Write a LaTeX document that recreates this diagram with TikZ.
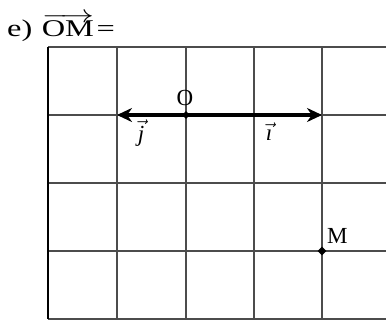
\documentclass[tikz,border=0pt]{standalone}
\usepackage{graphicx}
\usepackage{fontspec}
\setmainfont{Liberation Serif}
\usetikzlibrary{arrows.meta,shapes.geometric}
\tikzset{
  gridline/.style={draw=black!70, line width=1.1pt},
  vecline/.style={line width=3.6pt, -{Stealth[length=15pt,width=14pt]}},
  ptdot/.style={diamond, fill=black, inner sep=0pt, minimum size=8pt},
  lbl/.style={font=\fontsize{23}{26}\selectfont, inner sep=0pt},
  vlbl/.style={font=\fontsize{23}{26}\selectfont, inner sep=0pt}
}
\begin{document}
\begin{tikzpicture}[x=1pt,y=-1pt]
\useasboundingbox (0,0) rectangle (386,320);
\begin{scope}
\clip (0,0) rectangle (386,320);
\foreach \x in {117,186,254,322,390} \draw[gridline] (\x,47) -- (\x,319);
\foreach \y in {47,115,183,251,319} \draw[gridline] (48,\y) -- (390,\y);
\draw[draw=black, line width=1.4pt] (48,47) -- (48,319);
\end{scope}
\coordinate (O) at (186,115);
\coordinate (A) at (117,115);
\coordinate (B) at (322,115);
\coordinate (M) at (322,251);
\draw[vecline] (O) -- (A);
\draw[vecline] (O) -- (B);
\node[ptdot] (Od) at (O) {};
\node[ptdot, minimum size=9pt] (Md) at (M) {};
\node[lbl, anchor=base] (Ol) at (185,106) {O};
\node[lbl, anchor=base west] (Ml) at (327,244) {M};
\node[vlbl, anchor=base] (jl) at (141,142) {$\vec{\textit{j}}$};
\node[vlbl, anchor=base] (il) at (269,141) {$\vec{\textit{\i}}$};
\node[font=\fontsize{24}{27}\selectfont, inner sep=0pt, anchor=base west] (title) at (7,37)
  {\scalebox{1.35}[1]{e)\hspace{7pt}$\overrightarrow{\hbox{OM}}$\hspace{2pt}=}};
\end{tikzpicture}
\end{document}
